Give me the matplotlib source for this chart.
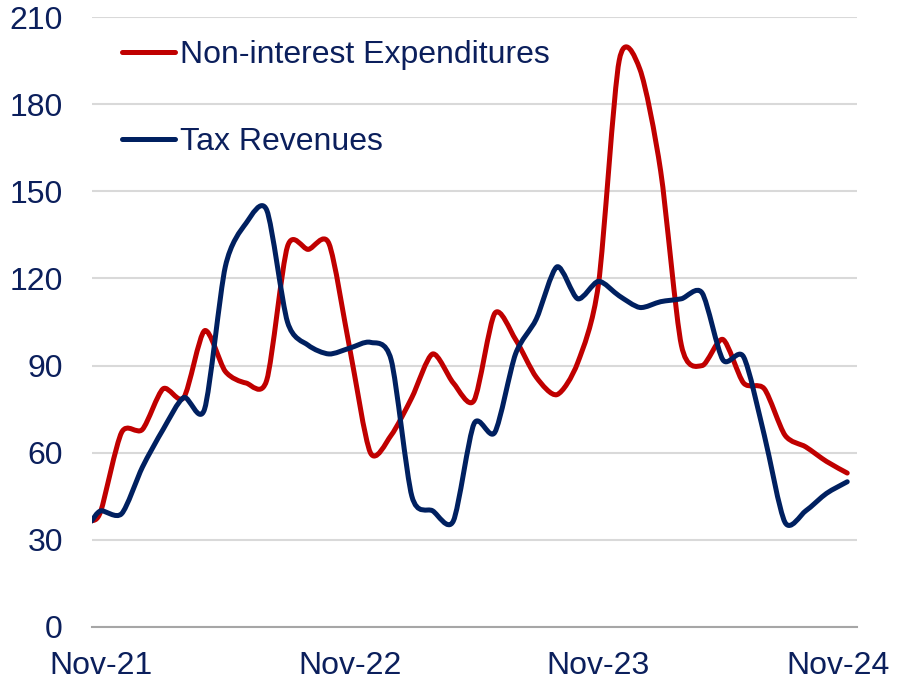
import numpy as np
import matplotlib
matplotlib.use("Agg")
import matplotlib.pyplot as plt
from matplotlib.path import Path
from matplotlib.patches import PathPatch
from matplotlib.lines import Line2D
from matplotlib.transforms import ScaledTranslation

plt.rcParams['font.family'] = ['Liberation Sans', 'DejaVu Sans']

# months since Nov-21 (first entry is the partial start of the series)
months = [-0.45] + list(range(37))
tick_pos = [0, 12, 24, 36]
tick_labels = ["Nov-21", "Nov-22", "Nov-23", "Nov-24"]

expenditures = [36.5, 40, 67, 68, 82, 79, 102, 88, 84, 85, 131, 130, 132,
                96, 60, 66, 79, 94, 84, 78, 108, 99, 86, 80, 91, 118,
                195, 192, 157, 97, 90, 99, 84, 82, 66, 62, 57, 53]
tax_revenues = [36.5, 40, 39, 55, 68, 79, 75, 124, 139, 143.5, 105, 97, 94,
                96, 98, 92, 45, 40, 36.5, 70, 67, 94, 106, 124, 113, 119,
                114, 110, 112, 113, 115, 92, 93, 66, 36, 40, 46, 50]

RED = "#C00000"
NAVY = "#002060"
TXT = "#0B1F5C"


def smooth_path(x, y, k=1 / 7.5):
    # smoothed line like Excel's: each segment is a cubic Bezier
    p = np.column_stack([np.asarray(x, float), np.asarray(y, float)])
    n = len(p)
    verts = [p[0]]
    codes = [Path.MOVETO]
    for i in range(n - 1):
        p0 = p[i - 1] if i > 0 else p[i]
        p3 = p[i + 2] if i + 2 < n else p[i + 1]
        verts += [p[i] + (p[i + 1] - p0) * k, p[i + 1] - (p3 - p[i]) * k, p[i + 1]]
        codes += [Path.CURVE4] * 3
    return Path(verts, codes)


fig = plt.figure(figsize=(9, 6.81), dpi=100)
ax = fig.add_axes([0.1022, 0.0793, 0.85, 0.8957])

for vals, col in [(expenditures, RED), (tax_revenues, NAVY)]:
    ax.add_patch(PathPatch(smooth_path(months, vals), facecolor="none",
                           edgecolor=col, lw=3.6, capstyle="round",
                           joinstyle="round", zorder=3))

ax.set_xlim(-0.43, 36.47)
ax.set_ylim(0, 210)
ax.set_yticks(range(0, 211, 30))
ax.set_xticks(tick_pos)
ax.set_xticklabels(tick_labels)
ax.yaxis.grid(True, color="#D9D9D9", lw=1.5)
ax.set_axisbelow(True)
for s in ["top", "right", "left"]:
    ax.spines[s].set_visible(False)
ax.spines["bottom"].set_color("#A6A6A6")
ax.spines["bottom"].set_linewidth(1.5)
ax.tick_params(axis="both", length=0, labelsize=23, labelcolor=TXT)
ax.tick_params(axis="y", pad=21)
ax.tick_params(axis="x", pad=17)

# last label is pulled in so it stays inside the figure
lab = ax.get_xticklabels()[-1]
lab.set_transform(lab.get_transform() + ScaledTranslation(-9 / 100, 0, fig.dpi_scale_trans))

handles = [Line2D([], [], color=RED, lw=3.6, solid_capstyle="round"),
           Line2D([], [], color=NAVY, lw=3.6, solid_capstyle="round")]
leg = ax.legend(handles, ["Non-interest Expenditures", "Tax Revenues"],
                loc="upper left", bbox_to_anchor=(0.039, 0.962), frameon=False,
                fontsize=23, handlelength=1.66, handletextpad=0.16,
                labelspacing=1.77, borderpad=0, borderaxespad=0)
for t in leg.get_texts():
    t.set_color(TXT)

fig.savefig("out.png", dpi=100)
